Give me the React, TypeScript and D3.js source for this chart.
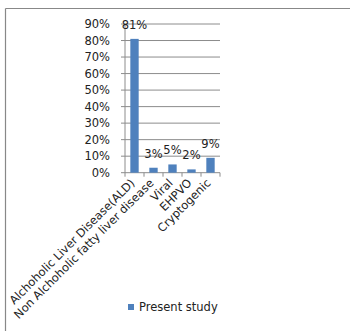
import React from "react";
import * as d3 from "d3";

const categories = [
  "Alchoholic Liver Disease(ALD)",
  "Non Alchoholic fatty liver disease",
  "Viral",
  "EHPVO",
  "Cryptogenic",
];
const values = [81, 3, 5, 2, 9];
const yTicks = [0, 10, 20, 30, 40, 50, 60, 70, 80, 90];
const seriesName = "Present study";

export default function App() {
  const W = 350;
  const H = 331;
  const x0 = 125, x1 = 220, yTop = 24, yBot = 172.7;
  const x = d3.scaleBand<string>().domain(categories).range([x0, x1]).paddingInner(0.56).paddingOuter(0.28);
  const xb = d3.scaleBand<string>().domain(categories).range([x0, x1]);
  const y = d3.scaleLinear().domain([0, 90]).range([yBot, yTop]);
  const font = "'DejaVu Sans', Verdana, sans-serif";
  const fs = 11.5;
  const grid = "#8c8c8c";
  const color = "#4F81BD";
  return (
    <svg width={W} height={H} style={{ position: "absolute", left: 0, top: 0, background: "#fff" }} fontFamily={font}>
      <line x1={5.5} x2={W} y1={8.5} y2={8.5} stroke="#888" strokeWidth={1.2} />
      <line x1={5.5} x2={5.5} y1={8.5} y2={H} stroke="#888" strokeWidth={1.2} />
      {yTicks.map((t) => (
        <g key={t}>
          {t > 0 && <line x1={x0} x2={x1} y1={y(t)} y2={y(t)} stroke={grid} strokeWidth={1} />}
          <line x1={x0 - 4} x2={x0} y1={y(t)} y2={y(t)} stroke={grid} />
          <text x={110} y={y(t) + 4} textAnchor="end" fontSize={fs} fill="#222">{t}%</text>
        </g>
      ))}
      <line x1={x0} x2={x0} y1={yTop} y2={yBot} stroke={grid} />
      <line x1={x0} x2={x1} y1={yBot} y2={yBot} stroke={grid} />
      {categories.map((c, i) => (
        <line key={"t" + i} x1={xb(c)!} x2={xb(c)!} y1={yBot} y2={yBot + 4} stroke={grid} />
      ))}
      <line x1={x1} x2={x1} y1={yBot} y2={yBot + 4} stroke={grid} />
      {categories.map((c, i) => (
        <rect key={"b" + i} x={x(c)!} y={y(values[i])} width={x.bandwidth()} height={yBot - y(values[i])} fill={color} />
      ))}
      {categories.map((c, i) => (
        <text key={"l" + i} x={xb(c)! + xb.bandwidth() / 2} y={y(values[i]) - 10} textAnchor="middle" fontSize={fs} fill="#222">
          {values[i]}%
        </text>
      ))}
      {categories.map((c, i) => (
        <text
          key={"x" + i}
          transform={`translate(${xb(c)! + xb.bandwidth() / 2 + 1},${yBot + 11}) rotate(-45)`}
          textAnchor="end"
          fontSize={fs}
          fill="#222"
        >
          {c}
        </text>
      ))}
      <rect x={128} y={304} width={6} height={6} fill={color} />
      <text x={139} y={311} fontSize={fs} fill="#222">{seriesName}</text>
    </svg>
  );
}
